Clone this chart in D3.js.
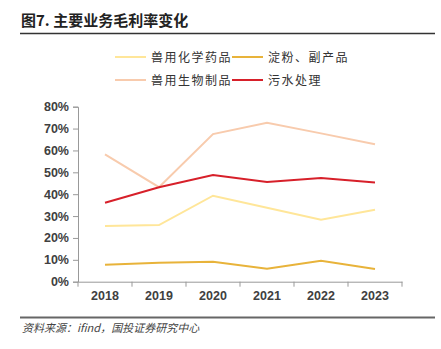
<!DOCTYPE html>
<html>
<head>
<meta charset="utf-8">
<script src="https://cdn.jsdelivr.net/npm/d3@7"></script>
<style>
  body { margin: 0; background: #fff; }
  svg { display: block; }
</style>
</head>
<body>
<svg></svg>
<script>
// data
const years = ["2018", "2019", "2020", "2021", "2022", "2023"];
const chemDrugs = [25.5, 25.9, 39.3, 33.8, 28.3, 32.9];   // 兽用化学药品
const starch = [7.8, 8.7, 9.1, 5.9, 9.6, 5.8];            // 淀粉、副产品
const bioProducts = [58.2, 43.2, 67.5, 72.7, 67.8, 62.8]; // 兽用生物制品
const sewage = [36.1, 43.2, 48.8, 45.6, 47.4, 45.4];      // 污水处理
const yTicks = [0, 10, 20, 30, 40, 50, 60, 70, 80];

const seriesList = [
  { name: "兽用化学药品", values: chemDrugs, color: "#FFE699" },
  { name: "淀粉、副产品", values: starch, color: "#E8B33A" },
  { name: "兽用生物制品", values: bioProducts, color: "#F8CBAD" },
  { name: "污水处理", values: sewage, color: "#D7202A" }
];

let svgWidth = 441, svgHeight = 349;
let svg = d3.select("svg")
  .attr("width", svgWidth)
  .attr("height", svgHeight);

const font = "'Noto Sans CJK SC', 'Liberation Sans', sans-serif";

// title
svg.append("text")
  .attr("x", 21).attr("y", 26)
  .attr("font-family", font)
  .attr("font-size", 15)
  .attr("font-weight", "bold")
  .attr("fill", "#222")
  .text("图7. 主要业务毛利率变化");

svg.append("line")
  .attr("x1", 20).attr("x2", 435)
  .attr("y1", 33.5).attr("y2", 33.5)
  .attr("stroke", "#333").attr("stroke-width", 1.5);

// plot area
let plotLeft = 78, plotRight = 402, plotTop = 106.7, plotBottom = 281.7;

let x = d3.scaleBand().domain(years).range([plotLeft, plotRight]);
let y = d3.scaleLinear().domain([0, 80]).range([plotBottom, plotTop]);

// y axis
let yAxis = d3.axisLeft(y)
  .tickValues(yTicks)
  .tickFormat(d => d + "%")
  .tickSize(5)
  .tickPadding(4);

let gy = svg.append("g")
  .attr("transform", "translate(" + plotLeft + ",0)")
  .call(yAxis);
gy.select(".domain").attr("stroke", "#999");
gy.selectAll(".tick line").attr("stroke", "#999");
gy.selectAll("text")
  .attr("font-family", "'Liberation Sans', Arial, sans-serif")
  .attr("font-size", 12.5)
  .attr("font-weight", "bold")
  .attr("fill", "#404040");

// x axis, ticks sit between categories
let xAxis = d3.axisBottom(x).tickSize(0).tickPadding(9);
let gx = svg.append("g")
  .attr("transform", "translate(0," + plotBottom + ")")
  .call(xAxis);
gx.select(".domain").attr("stroke", "#999");
gx.selectAll("text")
  .attr("font-family", "'Liberation Sans', Arial, sans-serif")
  .attr("font-size", 12.5)
  .attr("font-weight", "bold")
  .attr("fill", "#404040");

let bounds = years.map(d => x(d)).concat([x(years[years.length - 1]) + x.bandwidth()]);
gx.selectAll(".sep")
  .data(bounds)
  .enter()
  .append("line")
  .attr("x1", d => d).attr("x2", d => d)
  .attr("y1", 0).attr("y2", 5)
  .attr("stroke", "#999");

// lines
let line = d3.line()
  .x((d, i) => x(years[i]) + x.bandwidth() / 2)
  .y(d => y(d));

svg.selectAll(".series")
  .data(seriesList)
  .enter()
  .append("path")
  .attr("d", s => line(s.values))
  .attr("fill", "none")
  .attr("stroke", s => s.color)
  .attr("stroke-width", 2);

// legend
let legendPos = [[115, 57], [232, 57], [115, 80], [232, 80]];
let legend = svg.selectAll(".legend")
  .data(seriesList)
  .enter()
  .append("g")
  .attr("transform", (s, i) => "translate(" + legendPos[i][0] + "," + legendPos[i][1] + ")");

legend.append("line")
  .attr("x1", 0).attr("x2", 31)
  .attr("y1", 0).attr("y2", 0)
  .attr("stroke", s => s.color)
  .attr("stroke-width", 2);

legend.append("text")
  .attr("x", 36).attr("y", 4.5)
  .attr("font-family", font)
  .attr("font-size", 12)
  .attr("letter-spacing", 1.5)
  .attr("fill", "#333")
  .text(s => s.name);

// bottom rule and source
svg.append("line")
  .attr("x1", 20).attr("x2", 435)
  .attr("y1", 317.5).attr("y2", 317.5)
  .attr("stroke", "#666").attr("stroke-width", 2);

svg.append("text")
  .attr("x", 22).attr("y", 332)
  .attr("font-family", font)
  .attr("font-size", 11)
  .attr("font-style", "italic")
  .attr("fill", "#444")
  .text("资料来源：ifind，国投证券研究中心");
</script>
</body>
</html>
